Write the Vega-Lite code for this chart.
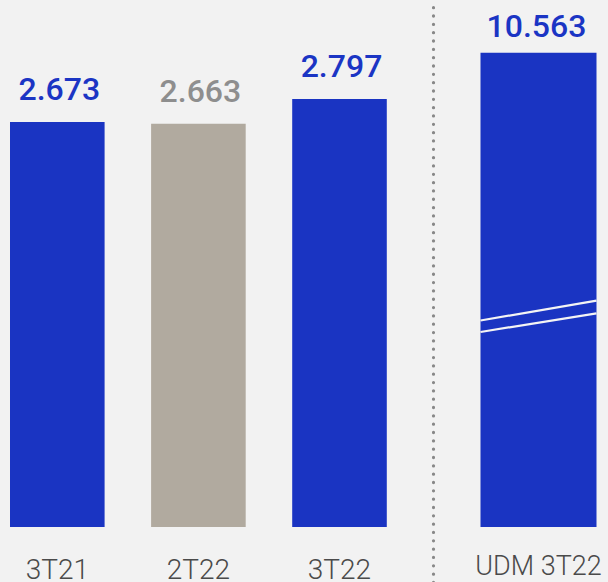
{
  "$schema": "https://vega.github.io/schema/vega-lite/v6.json",
  "background": "#f2f2f2",
  "padding": 0,
  "spacing": 0,
  "config": {
    "view": {"stroke": null},
    "font": "Roboto",
    "locale": {"number": {"decimal": ",", "thousands": ".", "grouping": [3], "currency": ["", " €"]}}
  },
  "data": {"values": [
    {"periodo": "3T21", "grupo": "trimestre", "valor": 2673},
    {"periodo": "2T22", "grupo": "trimestre", "valor": 2663},
    {"periodo": "3T22", "grupo": "trimestre", "valor": 2797},
    {"periodo": "UDM 3T22", "grupo": "udm", "valor": 10563}
  ]},
  "hconcat": [
    {
      "width": 433,
      "height": 527,
      "transform": [{"filter": "datum.grupo === 'trimestre'"}],
      "encoding": {
        "x": {
          "field": "periodo", "type": "nominal", "sort": null,
          "scale": {"paddingInner": 0.3296, "paddingOuter": 0.1992, "align": 0.178},
          "axis": {"title": null, "domain": false, "ticks": false, "tickSize": 0, "labelPadding": 0, "offset": 51, "labelBaseline": "alphabetic", "labelAngle": 0, "labelFont": "Roboto", "labelFontWeight": 300, "labelFontSize": 28, "labelColor": "#4a4a4a"}
        },
        "y": {"field": "valor", "type": "quantitative", "stack": null, "scale": {"domain": [489.5, 3330.5], "nice": false, "zero": false}, "axis": null}
      },
      "layer": [
        {
          "mark": {"type": "bar"},
          "encoding": {"color": {"condition": {"test": "datum.periodo === '2T22'", "value": "#b1aa9f"}, "value": "#1a34c2"}}
        },
        {
          "mark": {"type": "text", "baseline": "alphabetic", "dy": -22, "dx": 2, "fontSize": 32, "fontWeight": 500, "font": "Roboto"},
          "encoding": {
            "text": {"field": "valor", "type": "quantitative", "format": ",.0f"},
            "color": {"condition": {"test": "datum.periodo === '2T22'", "value": "#8e8e8e"}, "value": "#1b35c4"}
          }
        }
      ]
    },
    {
      "width": 175,
      "height": 582,
      "transform": [{"filter": "datum.grupo === 'udm'"}],
      "encoding": {
        "x": {
          "field": "periodo", "type": "nominal",
          "scale": {"paddingInner": 0, "paddingOuter": 0.2543, "align": 0.805},
          "axis": {"title": null, "domain": false, "ticks": false, "tickSize": 0, "labelPadding": 0, "offset": -8, "labelBaseline": "alphabetic", "labelAngle": 0, "labelFont": "Roboto", "labelFontWeight": 300, "labelFontSize": 27, "labelColor": "#4a4a4a"}
        }
      },
      "layer": [
        {
          "mark": {"type": "bar", "color": "#1a34c2"},
          "encoding": {
            "y": {"field": "valor", "type": "quantitative", "stack": null, "scale": {"domain": [-1225, 11736], "nice": false, "zero": false},
              "axis": {"orient": "left", "title": null, "labels": false, "ticks": false, "grid": false, "domain": true, "domainColor": "#888888", "domainWidth": 3.2, "domainDash": [0.1, 8.23], "domainCap": "round", "domainDashOffset": 0}}
          }
        },
        {
          "mark": {"type": "text", "baseline": "alphabetic", "dy": -16, "dx": -2, "fontSize": 32, "fontWeight": 500, "font": "Roboto", "color": "#1b35c4"},
          "encoding": {
            "y": {"field": "valor", "type": "quantitative"},
            "text": {"field": "valor", "type": "quantitative", "format": ",.0f"}
          }
        },
        {
          "mark": {"type": "rule", "color": "#f4f4f4", "strokeWidth": 2.2},
          "encoding": {
            "x": {"datum": "UDM 3T22", "bandPosition": 0},
            "x2": {"datum": "UDM 3T22", "bandPosition": 1},
            "y": {"datum": 4599},
            "y2": {"datum": 5040}
          }
        },
        {
          "mark": {"type": "rule", "color": "#f4f4f4", "strokeWidth": 2.2},
          "encoding": {
            "x": {"datum": "UDM 3T22", "bandPosition": 0},
            "x2": {"datum": "UDM 3T22", "bandPosition": 1},
            "y": {"datum": 4343},
            "y2": {"datum": 4759}
          }
        }
      ]
    }
  ]
}
